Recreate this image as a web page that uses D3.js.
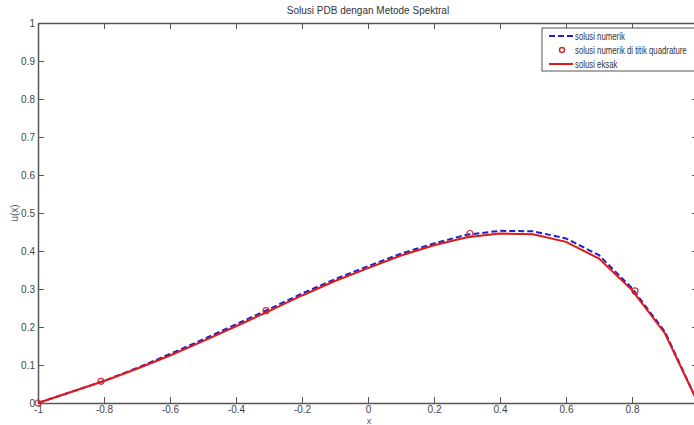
<!DOCTYPE html>
<html>
<head>
<meta charset="utf-8">
<script src="https://cdn.jsdelivr.net/npm/d3@7"></script>
<style>
  body { margin: 0; background: #fff; overflow: hidden; }
  svg { font-family: "Liberation Sans Narrow", "Liberation Sans", Arial, sans-serif; }
  .axis path, .axis line { stroke: #555; }
  .axis text { fill: #444; font-size: 10px; }
</style>
</head>
<body>
<svg></svg>
<script>
// chart data
const xGrid = [-1, -0.9, -0.8, -0.7, -0.6, -0.5, -0.4, -0.3, -0.2, -0.1, 0,
               0.1, 0.2, 0.3, 0.4, 0.5, 0.6, 0.7, 0.8, 0.9, 1];
const uNumerik = [0, 0.029, 0.058, 0.092, 0.129, 0.167, 0.207, 0.247, 0.288, 0.326, 0.360,
                  0.393, 0.420, 0.443, 0.453, 0.452, 0.433, 0.389, 0.302, 0.187, 0];
const uEksak = [0, 0.029, 0.058, 0.090, 0.125, 0.163, 0.202, 0.242, 0.283, 0.321, 0.355,
                0.388, 0.415, 0.436, 0.446, 0.444, 0.424, 0.380, 0.297, 0.183, 0];
// Chebyshev-Gauss-Lobatto points
const xQuad = [-1, -0.809, -0.309, 0.309, 0.809, 1];
const uQuad = [0, 0.057, 0.243, 0.446, 0.295, 0];

const xTicks = [-1, -0.8, -0.6, -0.4, -0.2, 0, 0.2, 0.4, 0.6, 0.8, 1];
const yTicks = [0, 0.1, 0.2, 0.3, 0.4, 0.5, 0.6, 0.7, 0.8, 0.9, 1];
const legendLabels = ['solusi numerik', 'solusi numerik di titik quadrature', 'solusi eksak'];

const margin = {t: 23, r: 0, b: 22, l: 38};
const size = {w: 694, h: 425};
const plot = {w: 660, h: 380};

const svg = d3.select('svg')
    .attr('width', size.w)
    .attr('height', size.h);

const g = svg.append('g')
    .attr('transform', `translate(${margin.l},${margin.t})`);

const x = d3.scaleLinear().domain([-1, 1]).range([0, plot.w]);
const y = d3.scaleLinear().domain([0, 1]).range([plot.h, 0]);

const fmt = d => (+d.toFixed(1)).toString();

// axes, ticks pointing inward like matlab
g.append('g').classed('axis', true)
    .attr('transform', `translate(0,${plot.h})`)
    .call(d3.axisBottom(x).tickValues(xTicks).tickFormat(fmt).tickSizeInner(-6).tickSizeOuter(0).tickPadding(3));
g.append('g').classed('axis', true)
    .call(d3.axisTop(x).tickValues(xTicks).tickFormat('').tickSizeInner(-6).tickSizeOuter(0));
g.append('g').classed('axis', true)
    .call(d3.axisLeft(y).tickValues(yTicks).tickFormat(fmt).tickSizeInner(-6).tickSizeOuter(0).tickPadding(3));
g.append('g').classed('axis', true)
    .attr('transform', `translate(${plot.w},0)`)
    .call(d3.axisRight(y).tickValues(yTicks).tickFormat('').tickSizeInner(-6).tickSizeOuter(0));
g.selectAll('.axis .domain').attr('stroke-width', 1.5);

// lines
const line = d3.line().x((d, i) => x(xGrid[i])).y(d => y(d));

g.append('path')
    .datum(uNumerik)
    .attr('d', line)
    .attr('fill', 'none')
    .attr('stroke', '#2020c8')
    .attr('stroke-width', 2)
    .attr('stroke-dasharray', '6,3');

g.selectAll('circle.quad')
    .data(uQuad)
    .join('circle')
    .classed('quad', true)
    .attr('cx', (d, i) => x(xQuad[i]))
    .attr('cy', d => y(d))
    .attr('r', 3)
    .attr('fill', 'none')
    .attr('stroke', '#d03030')
    .attr('stroke-width', 1.2);

g.append('path')
    .datum(uEksak)
    .attr('d', line)
    .attr('fill', 'none')
    .attr('stroke', '#e01818')
    .attr('stroke-width', 2);

// title and axis labels
svg.append('text')
    .attr('x', margin.l + plot.w / 2)
    .attr('y', 14)
    .attr('text-anchor', 'middle')
    .attr('font-size', 10)
    .attr('fill', '#333')
    .text('Solusi PDB dengan Metode Spektral');

svg.append('text')
    .attr('x', margin.l + plot.w / 2 + 1)
    .attr('y', 424)
    .attr('text-anchor', 'middle')
    .attr('font-size', 9)
    .attr('fill', '#555')
    .text('x');

svg.append('text')
    .attr('transform', `translate(18,${margin.t + plot.h / 2}) rotate(-90)`)
    .attr('text-anchor', 'middle')
    .attr('font-size', 10)
    .attr('fill', '#555')
    .text('u(x)');

// legend
const legend = svg.append('g').attr('transform', 'translate(542,28)');
legend.append('rect')
    .attr('width', 170)
    .attr('height', 43)
    .attr('fill', '#fff')
    .attr('stroke', '#555')
    .attr('stroke-width', 1);

const rows = legend.selectAll('g.row')
    .data(legendLabels)
    .join('g')
    .classed('row', true)
    .attr('transform', (d, i) => `translate(0,${8 + i * 14})`);

rows.filter((d, i) => i === 0).append('line')
    .attr('x1', 7).attr('x2', 31)
    .attr('stroke', '#2020c8').attr('stroke-width', 2).attr('stroke-dasharray', '6,3');
rows.filter((d, i) => i === 1).append('circle')
    .attr('cx', 20).attr('r', 2.5)
    .attr('fill', 'none').attr('stroke', '#d03030').attr('stroke-width', 1.5);
rows.filter((d, i) => i === 2).append('line')
    .attr('x1', 7).attr('x2', 31)
    .attr('stroke', '#e01818').attr('stroke-width', 2);

// reference font is condensed, squeeze horizontally
rows.append('text')
    .attr('transform', 'translate(33,0) scale(0.78,1)')
    .attr('dy', '0.35em')
    .attr('font-size', 10)
    .attr('fill', '#333')
    .text(d => d);
</script>
</body>
</html>
